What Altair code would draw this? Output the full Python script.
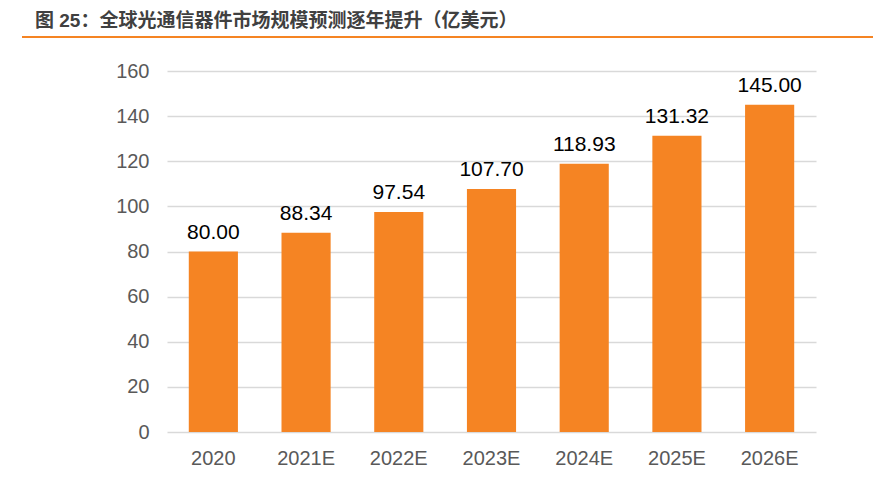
import altair as alt
import pandas as pd

years = ["2020", "2021E", "2022E", "2023E", "2024E", "2025E", "2026E"]
values = [80.00, 88.34, 97.54, 107.70, 118.93, 131.32, 145.00]
labels = ["80.00", "88.34", "97.54", "107.70", "118.93", "131.32", "145.00"]
title_text = "图 25：全球光通信器件市场规模预测逐年提升（亿美元）"

df = pd.DataFrame({"year": years, "value": values, "label": labels})
one = pd.DataFrame({"t": [title_text]})

FONT = "Liberation Sans"

x = alt.X("year:N", sort=years, title=None,
          scale=alt.Scale(paddingInner=0.47, paddingOuter=0.235),
          axis=alt.Axis(labelAngle=0, labelFontSize=20, labelColor="#595959",
                        labelFont=FONT, labelPadding=16, domain=False, ticks=False, grid=False))
y = alt.Y("value:Q", title=None,
          scale=alt.Scale(domain=[0, 160], nice=False),
          axis=alt.Axis(values=[0, 20, 40, 60, 80, 100, 120, 140, 160], labelFontSize=20,
                        labelColor="#595959", labelFont=FONT, labelPadding=18,
                        domain=False, ticks=False, grid=True, gridColor="#d9d9d9",
                        gridWidth=1.5))

bars = alt.Chart(df).mark_bar(color="#f58423").encode(x=x, y=y)
text = alt.Chart(df).mark_text(baseline="alphabetic", dy=-13, fontSize=21, font=FONT,
                               color="#000000").encode(
    x=alt.X("year:N", sort=years), y="value:Q", text="label:N")

title = alt.Chart(one).mark_text(align="left", baseline="middle", fontSize=19,
                                 fontWeight="bold",
                                 font="Liberation Sans, Noto Sans CJK SC",
                                 color="#404040").encode(
    x=alt.value(-132), y=alt.value(-50), text="t:N")
line = alt.Chart(one).mark_rule(color="#f58423", strokeWidth=2).encode(
    x=alt.value(-145), x2=alt.value(720), y=alt.value(-34))

chart = alt.layer(bars, text, title, line).properties(
    width=649, height=361,
    autosize=alt.AutoSizeParams(type="none"),
    padding={"left": 159, "top": 63, "right": 57, "bottom": 38},
).configure_view(stroke=None)

chart.save("out.html", embed_options={"renderer": "svg", "actions": False})
